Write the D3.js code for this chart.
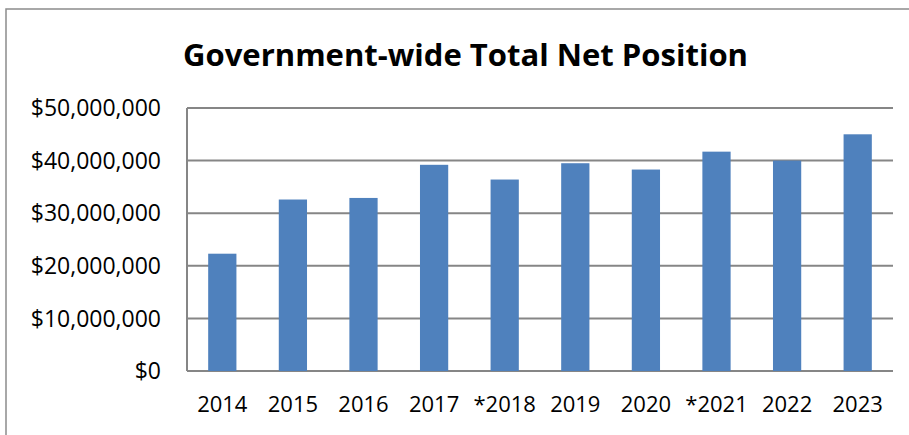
<!DOCTYPE html>
<html>
<head>
<meta charset="utf-8">
<script src="https://cdn.jsdelivr.net/npm/d3@7"></script>
<style>
  body { margin: 0; background: #fff; }
  text { font-family: "Open Sans", sans-serif; fill: #000; }
</style>
</head>
<body>
<div id="chart"></div>
<script>
// values (dollars)
const years = ["2014", "2015", "2016", "2017", "*2018", "2019", "2020", "*2021", "2022", "2023"];
const netPosition = [22300000, 32600000, 32900000, 39200000, 36400000, 39500000, 38300000, 41700000, 40000000, 45000000];
const yTicks = [0, 10000000, 20000000, 30000000, 40000000, 50000000];

const width = 909;
const height = 435;
const margins = { top: 108, bottom: 64, left: 187, right: 16 };

const svg = d3.select("#chart")
  .append("svg")
  .attr("width", width)
  .attr("height", height);

// outer chart border (runs off the right and bottom edges)
svg.append("rect")
  .attr("x", 6)
  .attr("y", 9)
  .attr("width", width + 10)
  .attr("height", height + 10)
  .attr("fill", "none")
  .attr("stroke", "#8c8c8c")
  .attr("stroke-width", 1.5);

const xScale = d3.scaleBand()
  .domain(years)
  .range([margins.left, width - margins.right])
  .paddingInner(0.6)
  .paddingOuter(0.3);

const yScale = d3.scaleLinear()
  .domain([0, 50000000])
  .range([height - margins.bottom, margins.top]);

// gridlines
svg.selectAll("line.grid")
  .data(yTicks)
  .join("line")
  .attr("class", "grid")
  .attr("x1", margins.left)
  .attr("x2", width - margins.right)
  .attr("y1", d => yScale(d))
  .attr("y2", d => yScale(d))
  .attr("stroke", "#868686")
  .attr("stroke-width", 2);

// left axis line
svg.append("line")
  .attr("x1", margins.left)
  .attr("x2", margins.left)
  .attr("y1", yScale(50000000))
  .attr("y2", yScale(0))
  .attr("stroke", "#868686")
  .attr("stroke-width", 2);

// bars
svg.selectAll("rect.bar")
  .data(years)
  .join("rect")
  .attr("class", "bar")
  .attr("x", d => xScale(d))
  .attr("y", (d, i) => yScale(netPosition[i]))
  .attr("width", xScale.bandwidth())
  .attr("height", (d, i) => yScale(0) - yScale(netPosition[i]))
  .attr("fill", "#4f81bd");

// y tick labels
const money = d3.format("$,");
svg.selectAll("text.ytick")
  .data(yTicks)
  .join("text")
  .attr("class", "ytick")
  .attr("x", 161)
  .attr("y", d => yScale(d))
  .attr("dy", "0.36em")
  .attr("text-anchor", "end")
  .style("font-size", "23px")
  .text(d => money(d));

// year labels
svg.selectAll("text.year")
  .data(years)
  .join("text")
  .attr("class", "year")
  .attr("x", d => xScale(d) + xScale.bandwidth() / 2)
  .attr("y", 412)
  .attr("text-anchor", "middle")
  .style("font-size", "22px")
  .text(d => d);

// title
svg.append("text")
  .attr("x", 465.5)
  .attr("y", 66)
  .attr("text-anchor", "middle")
  .attr("textLength", 565)
  .attr("lengthAdjust", "spacingAndGlyphs")
  .style("font-size", "31px")
  .style("font-weight", "bold")
  .text("Government-wide Total Net Position");
</script>
</body>
</html>
